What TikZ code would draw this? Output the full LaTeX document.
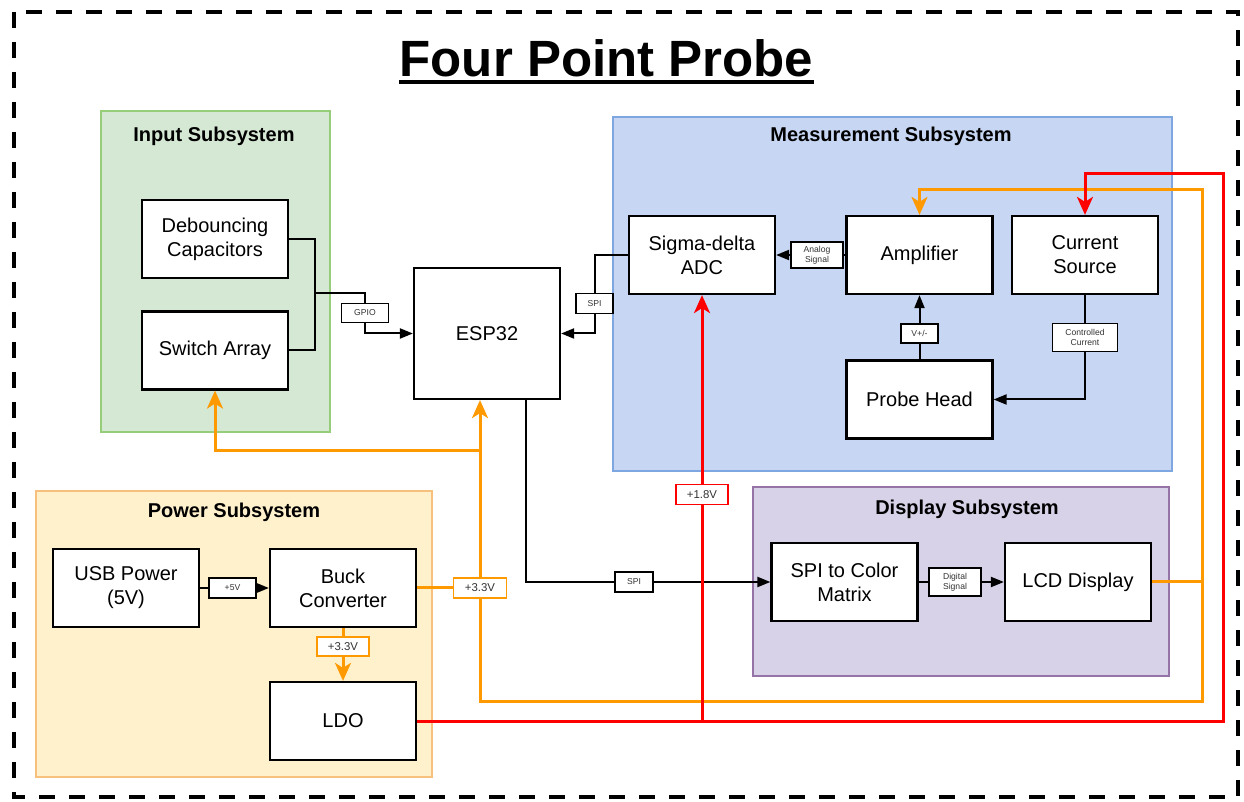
\documentclass[tikz,border=0pt]{standalone}
\usepackage{fontspec}
\setmainfont{Liberation Sans}
\usepackage{xcolor}
\usetikzlibrary{arrows.meta,positioning}

\definecolor{inputfill}{RGB}{213,232,212}
\definecolor{inputline}{RGB}{150,205,120}
\definecolor{measfill}{RGB}{199,215,243}
\definecolor{measline}{RGB}{126,166,224}
\definecolor{dispfill}{RGB}{216,210,232}
\definecolor{displine}{RGB}{150,115,166}
\definecolor{pwrfill}{RGB}{255,241,204}
\definecolor{pwrline}{RGB}{247,192,125}
\definecolor{pwrorange}{RGB}{255,153,0}
\definecolor{pwrred}{RGB}{255,0,0}

\begin{document}
\begin{tikzpicture}[
    x=0.5pt, y=-0.5pt,
    box/.style={rectangle, draw, line width=1.1pt, fill=white, minimum width=73pt, minimum height=39pt, align=center, inner sep=1pt, font=\fontsize{10}{12}\selectfont},
    sigbox/.style={rectangle, draw, line width=0.9pt, fill=white, inner sep=0pt, align=center, text=black!80, font=\fontsize{4.3}{5}\selectfont},
    pwrbox/.style={sigbox, draw=pwrorange, font=\fontsize{5.7}{6.5}\selectfont},
    subsys/.style={rectangle, draw, line width=1pt},
    systitle/.style={inner sep=0pt, font=\bfseries\fontsize{10}{12}\selectfont},
    wire/.style={line width=1pt},
    arrow/.style={wire, -{Triangle[length=6.5pt,width=5pt]}},
    oline/.style={line width=1.5pt, draw=pwrorange},
    oarrow/.style={oline, -{Stealth[length=9pt,width=8pt,inset=2.5pt]}},
    rline/.style={line width=1.5pt, draw=pwrred},
    rarrow/.style={rline, -{Stealth[length=9pt,width=8pt,inset=2.5pt]}}
]
\useasboundingbox (0,0) rectangle (1244,802);

% Outer frame and title
\draw[line width=2pt, dash pattern=on 8pt off 7pt] (14,12) rectangle (1238,797);
\node[inner sep=0pt, font=\bfseries\fontsize{25.5}{30}\selectfont] (title) at (606.5,58) {Four Point Probe};
\draw[line width=2pt] ([yshift=-3pt]title.base west) -- ([yshift=-3pt]title.base east);

% Input Subsystem
\node[subsys, draw=inputline, fill=inputfill, minimum width=114.5pt, minimum height=160.5pt] (inputsys) at (215.5,271.5) {};
\node[systitle] (inputtitle) at (214,136) {Input Subsystem};
\node[box] (deb) at (215,239) {Debouncing\\Capacitors};
\node[box] (sw) at (215,350.5) {Switch Array};

% ESP32
\node[box, minimum height=65.5pt] (esp) at (487,333.5) {ESP32};

% Measurement Subsystem
\node[subsys, draw=measline, fill=measfill, minimum width=279.5pt, minimum height=177pt] (meassys) at (892.5,294) {};
\node[systitle] (meastitle) at (891,136) {Measurement Subsystem};
\node[box] (adc) at (702,255) {Sigma-delta\\ADC};
\node[box] (amp) at (919.5,255) {Amplifier};
\node[box] (cs) at (1085,255) {Current\\Source};
\node[box] (ph) at (919.5,399.5) {Probe Head};
\node[sigbox, minimum width=26pt, minimum height=13pt] (analog) at (817,255) {Analog\\Signal};
\node[sigbox, minimum width=18.5pt, minimum height=9.5pt] (vpm) at (919.5,333.5) {V+/-};
\node[sigbox, minimum width=32.5pt, minimum height=14pt] (cc) at (1085,337.5) {Controlled\\Current};

% Display Subsystem
\node[subsys, draw=displine, fill=dispfill, minimum width=208pt, minimum height=94.5pt] (dispsys) at (961,581.5) {};
\node[systitle] (disptitle) at (967,509) {Display Subsystem};
\node[box] (scm) at (844.5,582) {SPI to Color\\Matrix};
\node[box] (lcd) at (1078,582) {LCD Display};
\node[sigbox, minimum width=26pt, minimum height=14pt] (dig) at (955,582) {Digital\\Signal};

% Power Subsystem
\node[subsys, draw=pwrline, fill=pwrfill, minimum width=198pt, minimum height=143pt] (pwrsys) at (234,634) {};
\node[systitle] (pwrtitle) at (234,512) {Power Subsystem};
\node[box] (usb) at (126,588) {USB Power\\(5V)};
\node[box] (buck) at (343,588) {Buck\\Converter};
\node[box] (ldo) at (343,721) {LDO};
\node[sigbox, minimum width=23.5pt, minimum height=10pt] (v5) at (232.5,588) {+5V};
\node[pwrbox, minimum width=26pt, minimum height=9.5pt] (v33a) at (343,646.5) {+3.3V};
\node[pwrbox, minimum width=26.5pt, minimum height=10pt] (v33b) at (480,588) {+3.3V};
\node[pwrbox, draw=pwrred, minimum width=26pt, minimum height=10pt] (v18) at (702,494.5) {+1.8V};

% Bus labels
\node[sigbox, minimum width=23.5pt, minimum height=9.5pt] (gpio) at (365,313) {GPIO};
\node[sigbox, minimum width=18.5pt, minimum height=10pt] (spia) at (594.5,303.5) {SPI};
\node[sigbox, minimum width=19pt, minimum height=10pt] (spib) at (634,582) {SPI};

% Bends
\coordinate (injoin) at (315,293);
\coordinate (espout) at ([xshift=19.5pt]esp.south);
\coordinate (obranch) at (480,451);
\coordinate (obl) at (480,701);
\coordinate (obr) at (1202,701);
\coordinate (otr) at (1202,190);
\coordinate (rbranch) at (702,721);
\coordinate (rbr) at (1223,721);
\coordinate (rtr) at (1223,174);

% Signal wires
\draw[wire] (deb.east) -| (injoin) |- (sw.east);
\draw[wire] (injoin) -| (gpio.north);
\draw[arrow] (gpio.south) |- (esp.west);
\draw[wire] (adc.west) -| (spia.north);
\draw[arrow] (spia.south) |- (esp.east);
\draw[wire] (amp.west) -- (analog.east);
\draw[arrow] (analog.west) -- (adc.east);
\draw[wire] (ph.north) -- (vpm.south);
\draw[arrow] (vpm.north) -- (amp.south);
\draw[wire] (cs.south) -- (cc.north);
\draw[arrow] (cc.south) |- (ph.east);
\draw[wire] (espout) |- (spib.west);
\draw[arrow] (spib.east) -- (scm.west);
\draw[wire] (scm.east) -- (dig.west);
\draw[arrow] (dig.east) -- (lcd.west);
\draw[wire] (usb.east) -- (v5.west);
\draw[arrow] (v5.east) -- (buck.west);

% 3.3V rail
\draw[oline] (buck.east) -- (v33b.west);
\draw[oline] (buck.south) -- (v33a.north);
\draw[oarrow] (v33a.south) -- (ldo.north);
\draw[oarrow] (v33b.north) -- (v33b.north |- esp.south);
\draw[oarrow] (obranch) -| (sw.south);
\draw[oarrow] (v33b.south) -- (obl) -- (obr) -- (otr) -| (amp.north);
\draw[oline] (lcd.east) -- (lcd.east -| otr);

% 1.8V rail
\draw[rline] (rbranch) -- (v18.south);
\draw[rarrow] (v18.north) -- (adc.south);
\draw[rarrow] (ldo.east) -- (rbr) -- (rtr) -| (cs.north);

\end{tikzpicture}
\end{document}
